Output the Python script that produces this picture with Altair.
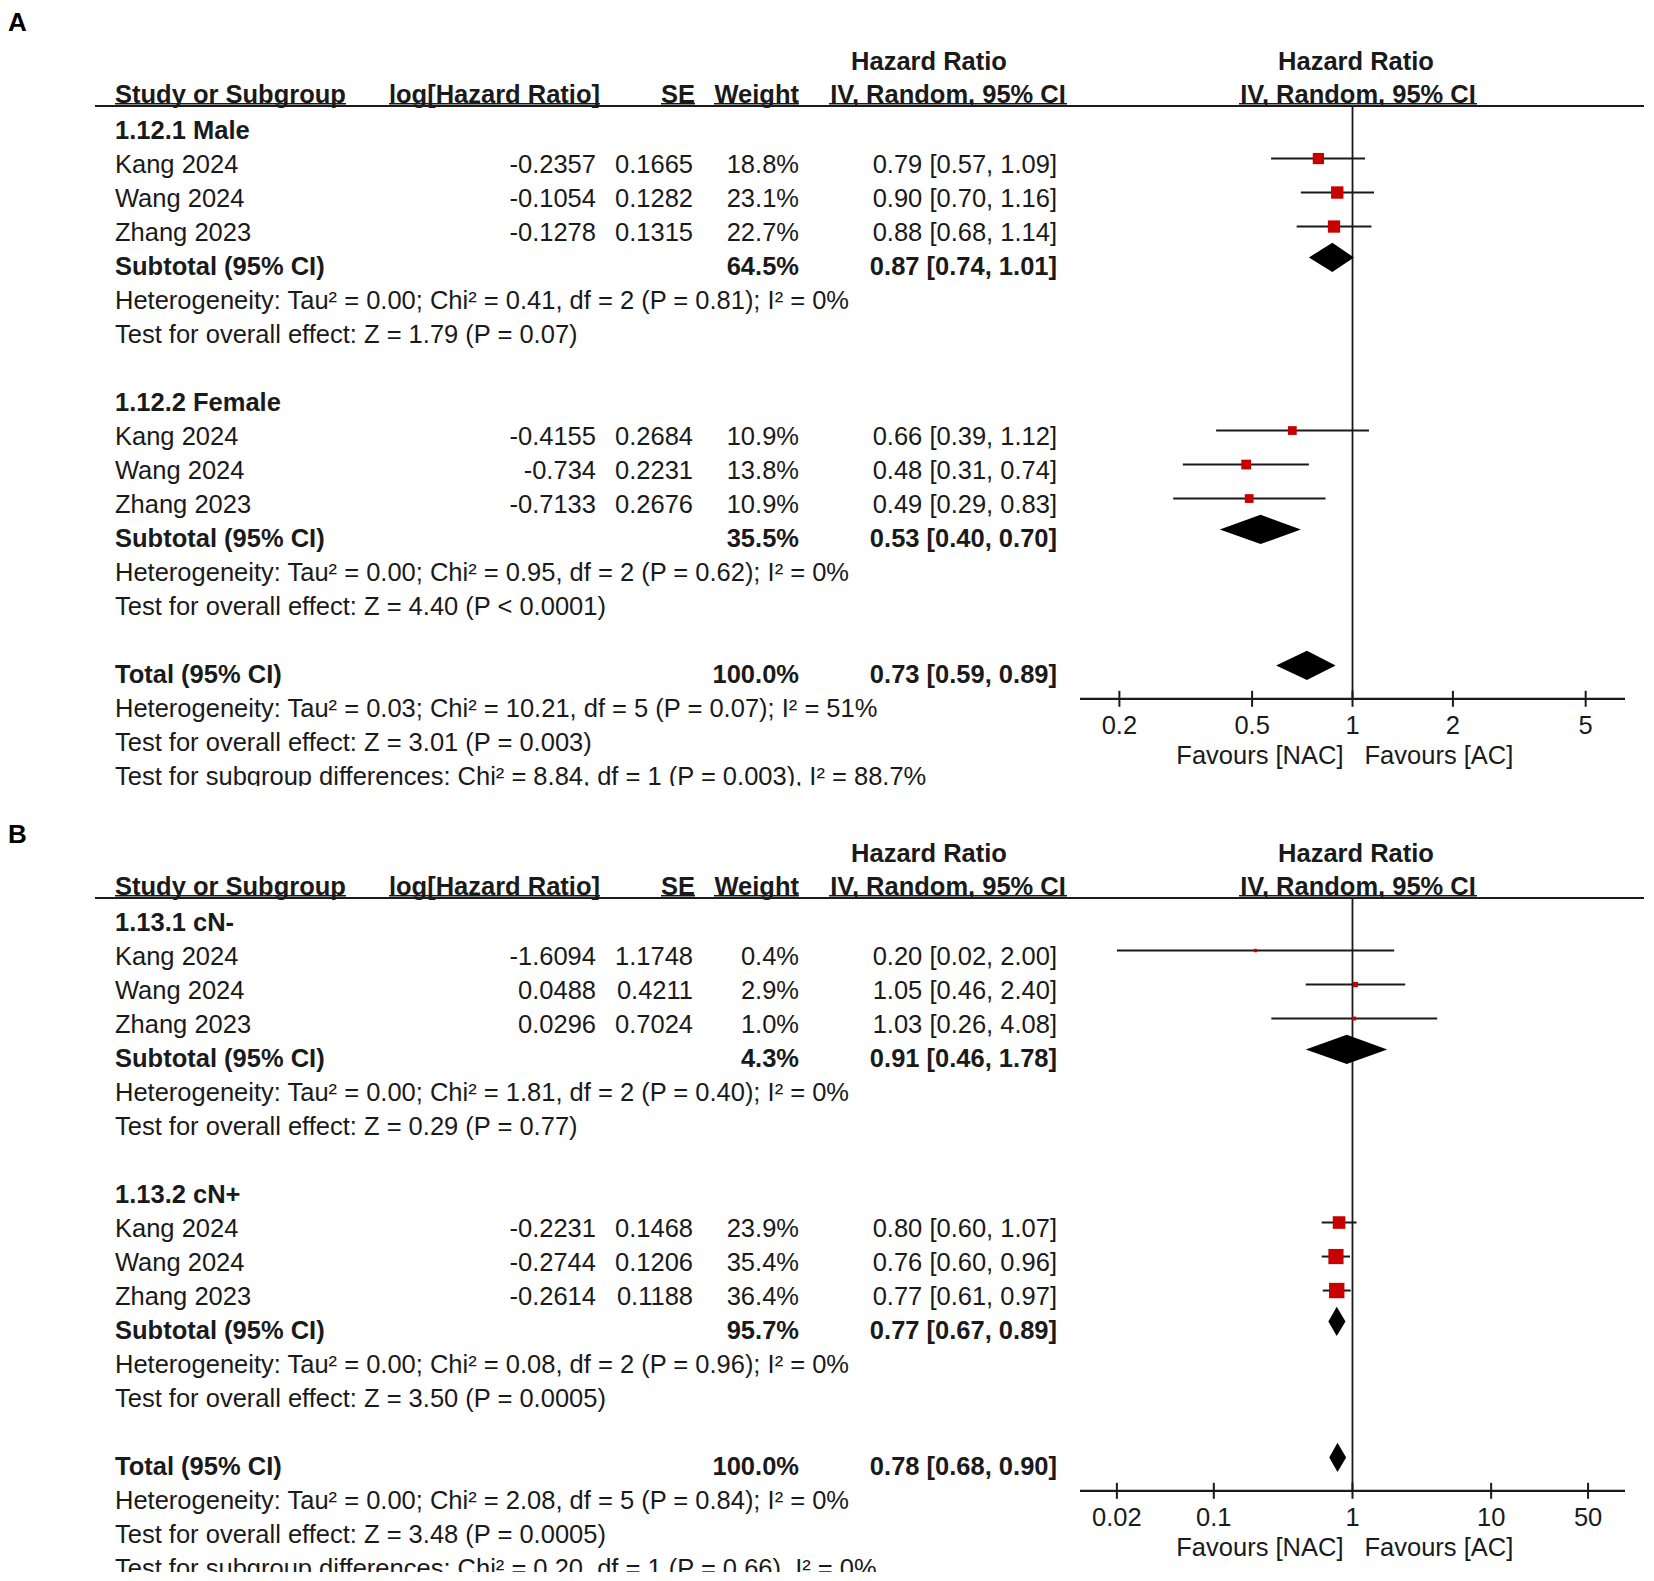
import altair as alt
import pandas as pd

FONT = "Liberation Sans"
FS = 25.5
TXT = "#1a1a1a"
RED = "#c80000"

# ---------------- Panel A data ----------------
A_groups = ["1.12.1 Male", "1.12.2 Female"]
A_study = ["Kang 2024", "Wang 2024", "Zhang 2023", "Kang 2024", "Wang 2024", "Zhang 2023"]
A_loghr = ["-0.2357", "-0.1054", "-0.1278", "-0.4155", "-0.734", "-0.7133"]
A_se = ["0.1665", "0.1282", "0.1315", "0.2684", "0.2231", "0.2676"]
A_weight = [18.8, 23.1, 22.7, 10.9, 13.8, 10.9]
A_hr = [0.79, 0.90, 0.88, 0.66, 0.48, 0.49]
A_lo = [0.57, 0.70, 0.68, 0.39, 0.31, 0.29]
A_hi = [1.09, 1.16, 1.14, 1.12, 0.74, 0.83]
A_sub_weight = [64.5, 35.5]
A_sub_hr = [0.87, 0.53]
A_sub_lo = [0.74, 0.40]
A_sub_hi = [1.01, 0.70]
A_sub_het = ["Heterogeneity: Tau² = 0.00; Chi² = 0.41, df = 2 (P = 0.81); I² = 0%",
             "Heterogeneity: Tau² = 0.00; Chi² = 0.95, df = 2 (P = 0.62); I² = 0%"]
A_sub_z = ["Test for overall effect: Z = 1.79 (P = 0.07)",
           "Test for overall effect: Z = 4.40 (P < 0.0001)"]
A_total = [0.73, 0.59, 0.89]
A_total_het = "Heterogeneity: Tau² = 0.03; Chi² = 10.21, df = 5 (P = 0.07); I² = 51%"
A_total_z = "Test for overall effect: Z = 3.01 (P = 0.003)"
A_sg_test = "Test for subgroup differences: Chi² = 8.84, df = 1 (P = 0.003), I² = 88.7%"
A_ticks = [0.2, 0.5, 1, 2, 5]
A_tick_labels = ["0.2", "0.5", "1", "2", "5"]
A_domain = [0.1524, 6.56]

# ---------------- Panel B data ----------------
B_groups = ["1.13.1 cN-", "1.13.2 cN+"]
B_study = ["Kang 2024", "Wang 2024", "Zhang 2023", "Kang 2024", "Wang 2024", "Zhang 2023"]
B_loghr = ["-1.6094", "0.0488", "0.0296", "-0.2231", "-0.2744", "-0.2614"]
B_se = ["1.1748", "0.4211", "0.7024", "0.1468", "0.1206", "0.1188"]
B_weight = [0.4, 2.9, 1.0, 23.9, 35.4, 36.4]
B_hr = [0.20, 1.05, 1.03, 0.80, 0.76, 0.77]
B_lo = [0.02, 0.46, 0.26, 0.60, 0.60, 0.61]
B_hi = [2.00, 2.40, 4.08, 1.07, 0.96, 0.97]
B_sub_weight = [4.3, 95.7]
B_sub_hr = [0.91, 0.77]
B_sub_lo = [0.46, 0.67]
B_sub_hi = [1.78, 0.89]
B_sub_het = ["Heterogeneity: Tau² = 0.00; Chi² = 1.81, df = 2 (P = 0.40); I² = 0%",
             "Heterogeneity: Tau² = 0.00; Chi² = 0.08, df = 2 (P = 0.96); I² = 0%"]
B_sub_z = ["Test for overall effect: Z = 0.29 (P = 0.77)",
           "Test for overall effect: Z = 3.50 (P = 0.0005)"]
B_total = [0.78, 0.68, 0.90]
B_total_het = "Heterogeneity: Tau² = 0.00; Chi² = 2.08, df = 5 (P = 0.84); I² = 0%"
B_total_z = "Test for overall effect: Z = 3.48 (P = 0.0005)"
B_sg_test = "Test for subgroup differences: Chi² = 0.20, df = 1 (P = 0.66), I² = 0%"
B_ticks = [0.02, 0.1, 1, 10, 50]
B_tick_labels = ["0.02", "0.1", "1", "10", "50"]
B_domain = [0.01084, 92.3]

# ---------------- layout ----------------
W = 1636
STEP = 34
COLS = {"study": (107, "left"), "loghr": (588, "right"), "se": (685, "right"),
        "weight": (791, "right"), "ci": (1049, "right")}
XRANGE = [1072, 1617]
AXIS_R = 16.7
HEAD1_R = -2.04
HEAD2_R = -1.07
HEAD_LINE_R = -0.735
UNDER_R = -0.80
SQ_SHIFT = 0.19
DIA_SHIFT = 0.28
DIAMOND_HALF = 0.43


def fmt_ci(h, l, u):
    return f"{h:.2f} [{l:.2f}, {u:.2f}]"


def fmt_w(w):
    return f"{w:.1f}%"


def panel(label, label_r, groups, study, loghr, se, w, hr, lo, hi,
          sub_w, sub_hr, sub_lo, sub_hi, sub_het, sub_z,
          tot, tot_het, tot_z, sg_test, ticks, tick_labels, domain, row0, H):
    ys = alt.Scale(domain=[0, 1], range=[row0, row0 + STEP], zero=False, nice=False)
    xs = alt.Scale(type="log", domain=domain, range=XRANGE, nice=False)

    def Y(f):
        return alt.Y(f, type="quantitative", scale=ys, axis=None)

    def X(f):
        return alt.X(f, type="quantitative", scale=xs, axis=None)

    rows, marks, dia = [], [], []
    for g in range(2):
        b = g * 8
        rows.append((b, "study", groups[g], True))
        for k in range(3):
            i = g * 3 + k
            r = b + 1 + k
            rows += [(r, "study", study[i], False), (r, "loghr", loghr[i], False),
                     (r, "se", se[i], False), (r, "weight", fmt_w(w[i]), False),
                     (r, "ci", fmt_ci(hr[i], lo[i], hi[i]), False)]
            marks.append(dict(r=r - SQ_SHIFT, hr=hr[i], lo=lo[i], hi=hi[i], w=w[i]))
        r = b + 4
        rows += [(r, "study", "Subtotal (95% CI)", True), (r, "weight", fmt_w(sub_w[g]), True),
                 (r, "ci", fmt_ci(sub_hr[g], sub_lo[g], sub_hi[g]), True)]
        dia.append((f"s{g}", r - DIA_SHIFT, sub_hr[g], sub_lo[g], sub_hi[g]))
        rows += [(b + 5, "study", sub_het[g], False), (b + 6, "study", sub_z[g], False)]
    rows += [(16, "study", "Total (95% CI)", True), (16, "weight", "100.0%", True),
             (16, "ci", fmt_ci(*tot), True)]
    dia.append(("t", 16 - DIA_SHIFT, tot[0], tot[1], tot[2]))
    rows += [(17, "study", tot_het, False), (18, "study", tot_z, False), (19, "study", sg_test, False)]

    tdf = pd.DataFrame(rows, columns=["r", "col", "text", "bold"])
    layers = []
    for col, (px, al) in COLS.items():
        for bold in (False, True):
            sub = tdf[(tdf.col == col) & (tdf.bold == bold)]
            if len(sub) == 0:
                continue
            layers.append(alt.Chart(sub).mark_text(
                align=al, baseline="middle", font=FONT, fontSize=FS,
                fontWeight="bold" if bold else "normal", color=TXT, clip=True
            ).encode(x=alt.value(px), y=Y("r"), text="text:N"))

    # headers
    headers = [(HEAD1_R, 921, "center", "Hazard Ratio"), (HEAD1_R, 1348, "center", "Hazard Ratio"),
               (HEAD2_R, 107, "left", "Study or Subgroup"), (HEAD2_R, 592, "right", "log[Hazard Ratio]"),
               (HEAD2_R, 687, "right", "SE"), (HEAD2_R, 791, "right", "Weight"),
               (HEAD2_R, 940, "center", "IV, Random, 95% CI"), (HEAD2_R, 1350, "center", "IV, Random, 95% CI")]
    for r, px, al, t in headers:
        layers.append(alt.Chart(pd.DataFrame({"r": [r], "t": [t]})).mark_text(
            align=al, baseline="middle", font=FONT, fontSize=FS, fontWeight="bold", color=TXT
        ).encode(x=alt.value(px), y=Y("r"), text="t:N"))
    underlines = [(107, 338), (381, 592), (653, 687), (706, 791), (821, 1059), (1231, 1469)]
    for a, b2 in underlines:
        layers.append(alt.Chart(pd.DataFrame({"r": [UNDER_R]})).mark_rule(
            color=TXT, strokeWidth=1.5).encode(x=alt.value(a), x2=alt.value(b2), y=Y("r")))
    # header line
    layers.append(alt.Chart(pd.DataFrame({"r": [HEAD_LINE_R]})).mark_rule(
        color=TXT, strokeWidth=2).encode(x=alt.value(87), x2=alt.value(W), y=Y("r")))
    # panel label
    layers.append(alt.Chart(pd.DataFrame({"r": [label_r], "t": [label]})).mark_text(
        align="left", baseline="alphabetic", font=FONT, fontSize=26, fontWeight="bold", color="#000"
    ).encode(x=alt.value(0), y=Y("r"), text="t:N"))

    # vertical line of no effect
    layers.append(alt.Chart(pd.DataFrame({"x": [1], "y": [HEAD_LINE_R], "y2": [AXIS_R]})).mark_rule(
        color=TXT, strokeWidth=1.8).encode(x=X("x"), y=Y("y"), y2="y2:Q"))
    # x axis
    layers.append(alt.Chart(pd.DataFrame({"x": [domain[0]], "x2": [domain[1]], "y": [AXIS_R]})).mark_rule(
        color=TXT, strokeWidth=2.2).encode(x=X("x"), x2="x2:Q", y=Y("y")))
    tdf2 = pd.DataFrame({"x": ticks, "lab": tick_labels, "y": AXIS_R - 0.235, "y2": AXIS_R + 0.235,
                         "ly": AXIS_R + 0.79})
    layers.append(alt.Chart(tdf2).mark_rule(color=TXT, strokeWidth=2).encode(
        x=X("x"), y=Y("y"), y2="y2:Q"))
    layers.append(alt.Chart(tdf2).mark_text(
        align="center", baseline="middle", font=FONT, fontSize=FS, color=TXT
    ).encode(x=X("x"), y=Y("ly"), text="lab:N"))
    fav = pd.DataFrame({"x": [1], "y": [AXIS_R + 1.69]})
    layers.append(alt.Chart(fav).mark_text(
        align="right", baseline="middle", font=FONT, fontSize=FS, color=TXT, dx=-9
    ).encode(x=X("x"), y=Y("y"), text=alt.value("Favours [NAC]")))
    layers.append(alt.Chart(fav).mark_text(
        align="left", baseline="middle", font=FONT, fontSize=FS, color=TXT, dx=12
    ).encode(x=X("x"), y=Y("y"), text=alt.value("Favours [AC]")))

    # study CIs and squares
    mdf = pd.DataFrame(marks)
    layers.append(alt.Chart(mdf).mark_rule(color=TXT, strokeWidth=2).encode(
        x=X("lo"), x2="hi:Q", y=Y("r")))
    layers.append(alt.Chart(mdf).mark_square(filled=True, color=RED, opacity=1).encode(
        x=X("hr"), y=Y("r"),
        size=alt.Size("w:Q", scale=alt.Scale(domain=[0, 100], range=[9, 634], zero=False), legend=None)))

    # diamonds
    drows = []
    for did, r, est, l, u in dia:
        drows += [dict(id=did, x=l, y=r, y2=r),
                  dict(id=did, x=est, y=r - DIAMOND_HALF, y2=r + DIAMOND_HALF),
                  dict(id=did, x=u, y=r, y2=r)]
    ddf = pd.DataFrame(drows)
    layers.append(alt.Chart(ddf).mark_area(color="#000", opacity=1, interpolate="linear").encode(
        x=X("x"), y=alt.Y("y:Q", scale=ys, axis=None, stack=None), y2="y2:Q", detail="id:N"))

    return alt.layer(*layers).properties(width=W, height=H)


pA = panel("A", -2.93, A_groups, A_study, A_loghr, A_se, A_weight, A_hr, A_lo, A_hi,
           A_sub_weight, A_sub_hr, A_sub_lo, A_sub_hi, A_sub_het, A_sub_z,
           A_total, A_total_het, A_total_z, A_sg_test, A_ticks, A_tick_labels, A_domain,
           row0=123, H=778)
pB = panel("B", -2.36, B_groups, B_study, B_loghr, B_se, B_weight, B_hr, B_lo, B_hi,
           B_sub_weight, B_sub_hr, B_sub_lo, B_sub_hi, B_sub_het, B_sub_z,
           B_total, B_total_het, B_total_z, B_sg_test, B_ticks, B_tick_labels, B_domain,
           row0=137, H=786)

chart = alt.vconcat(pA, pB, spacing=0).properties(padding=0, background="white").configure_view(stroke=None)
chart.save("out.html", embed_options={"renderer": "svg", "actions": False})
